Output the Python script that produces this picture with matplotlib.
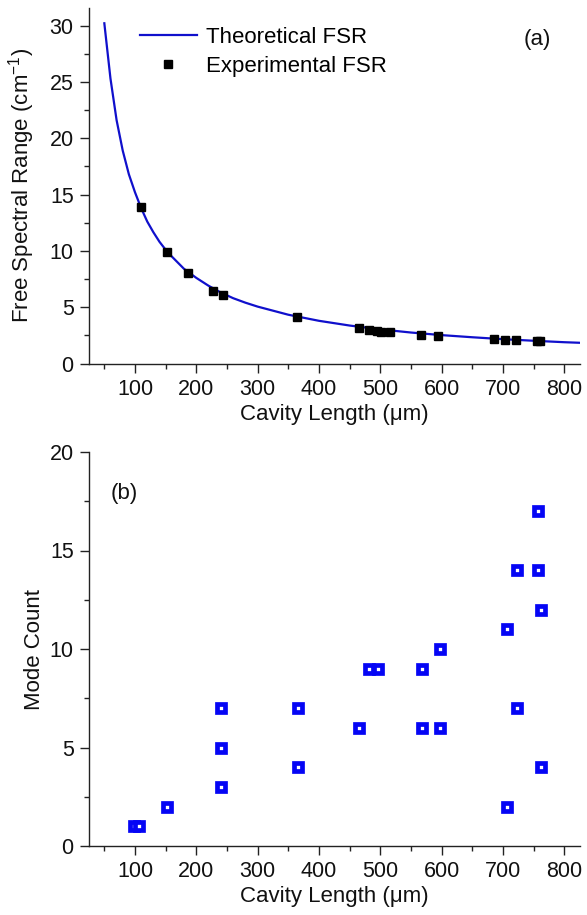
import matplotlib
matplotlib.use("Agg")
import matplotlib.pyplot as plt
from matplotlib.ticker import MultipleLocator

plt.rcParams['font.family'] = ['Liberation Sans', 'DejaVu Sans']
plt.rcParams['mathtext.fontset'] = 'custom'
plt.rcParams['mathtext.rm'] = 'Liberation Sans'
plt.rcParams['mathtext.it'] = 'Liberation Sans:italic'

# ---- Data ----
# Panel (a): theoretical FSR curve
theory_length = [50, 60, 70, 80, 90, 100, 110, 120, 130, 140, 150, 160, 180, 200,
                 220, 240, 260, 280, 300, 350, 400, 450, 500, 550, 600, 650,
                 700, 750, 800, 825]
theory_fsr = [30.2, 25.3, 21.6, 18.9, 16.8, 15.2, 13.8, 12.6, 11.65, 10.8, 10.1,
              9.5, 8.4, 7.6, 6.9, 6.3, 5.8, 5.4, 5.05, 4.33, 3.79, 3.37, 3.03,
              2.75, 2.52, 2.33, 2.16, 2.02, 1.89, 1.84]

# Panel (a): experimental FSR
exp_length = [110, 153, 186, 228, 243, 365, 465, 481, 494, 502, 516, 567, 595,
              686, 704, 721, 755, 760]
exp_fsr = [13.9, 9.9, 8.0, 6.4, 6.1, 4.1, 3.12, 2.95, 2.88, 2.82, 2.76, 2.55,
           2.47, 2.17, 2.05, 2.05, 1.99, 1.99]

# Panel (b): mode count
mode_length = [98, 106, 153, 240, 240, 240, 366, 366, 466, 481, 497, 568, 568,
               597, 597, 706, 706, 723, 723, 758, 758, 763, 763]
mode_count = [1, 1, 2, 7, 5, 3, 7, 4, 6, 9, 9, 9, 6, 10, 6, 11, 2, 14, 7, 17,
              14, 12, 4]

x_ticks = [100, 200, 300, 400, 500, 600, 700, 800]
fsr_ticks = [0, 5, 10, 15, 20, 25, 30]
mode_ticks = [0, 5, 10, 15, 20]

W, H = 587, 915
fig = plt.figure(figsize=(W / 100, H / 100), dpi=100)

def px_axes(left, top, right, bottom):
    return fig.add_axes([left / W, 1 - bottom / H, (right - left) / W, (bottom - top) / H])

ax1 = px_axes(89, 7.5, 579.5, 363.5)
ax2 = px_axes(89, 452, 579.5, 846)

blue_line = '#1010cc'
blue_mark = '#0505f5'
tick_fs = 15.5
label_fs = 16

for ax in (ax1, ax2):
    for s in ('top', 'right'):
        ax.spines[s].set_visible(False)
    for s in ('left', 'bottom'):
        ax.spines[s].set_linewidth(1.0)
        ax.spines[s].set_color('#222222')
    ax.set_xlim(25, 825)
    ax.set_xticks(x_ticks)
    ax.xaxis.set_minor_locator(MultipleLocator(50))
    ax.yaxis.set_minor_locator(MultipleLocator(2.5))
    ax.tick_params(which='major', direction='out', length=6.5, width=1.0,
                   labelsize=tick_fs, pad=4.5, color='#222222', labelcolor='#111111')
    ax.tick_params(which='minor', direction='out', length=3.5, width=1.0, color='#222222')
    ax.set_xlabel('Cavity Length (μm)', fontsize=label_fs, labelpad=3, color='#111111')

# Panel (a)
ax1.plot(theory_length, theory_fsr, color=blue_line, lw=1.6, label='Theoretical FSR')
ax1.plot(exp_length, exp_fsr, 's', color='black', ms=6.3, label='Experimental FSR',
         zorder=3)
ax1.set_ylim(0, 31.6)
ax1.set_yticks(fsr_ticks)
ax1.set_ylabel('Free Spectral Range (cm$^{-1}$)', fontsize=label_fs, color='#111111')
ax1.yaxis.set_label_coords(-0.105, 0.5)
leg = ax1.legend(loc='upper left', bbox_to_anchor=(140 / W, 1 - 27 / H),
                 bbox_transform=fig.transFigure, frameon=False, fontsize=label_fs,
                 handlelength=2.55, handletextpad=0.4, labelspacing=0.35,
                 borderpad=0, borderaxespad=0, markerscale=0.85)
ax1.text(537 / W, 1 - 40 / H, '(a)', transform=fig.transFigure, fontsize=label_fs,
         ha='center', va='center', color='#111111')

# Panel (b)
ax2.plot(mode_length, mode_count, 's', ms=5.2, mfc='white', mec=blue_mark, mew=3.4,
         ls='none', clip_on=False)
ax2.set_ylim(0, 20)
ax2.set_yticks(mode_ticks)
ax2.set_ylabel('Mode Count', fontsize=label_fs, color='#111111')
ax2.yaxis.set_label_coords(-0.09, 0.5)
ax2.text(124.5 / W, 1 - 494 / H, '(b)', transform=fig.transFigure, fontsize=label_fs,
         ha='center', va='center', color='#111111')

fig.savefig('out.png', dpi=100)
